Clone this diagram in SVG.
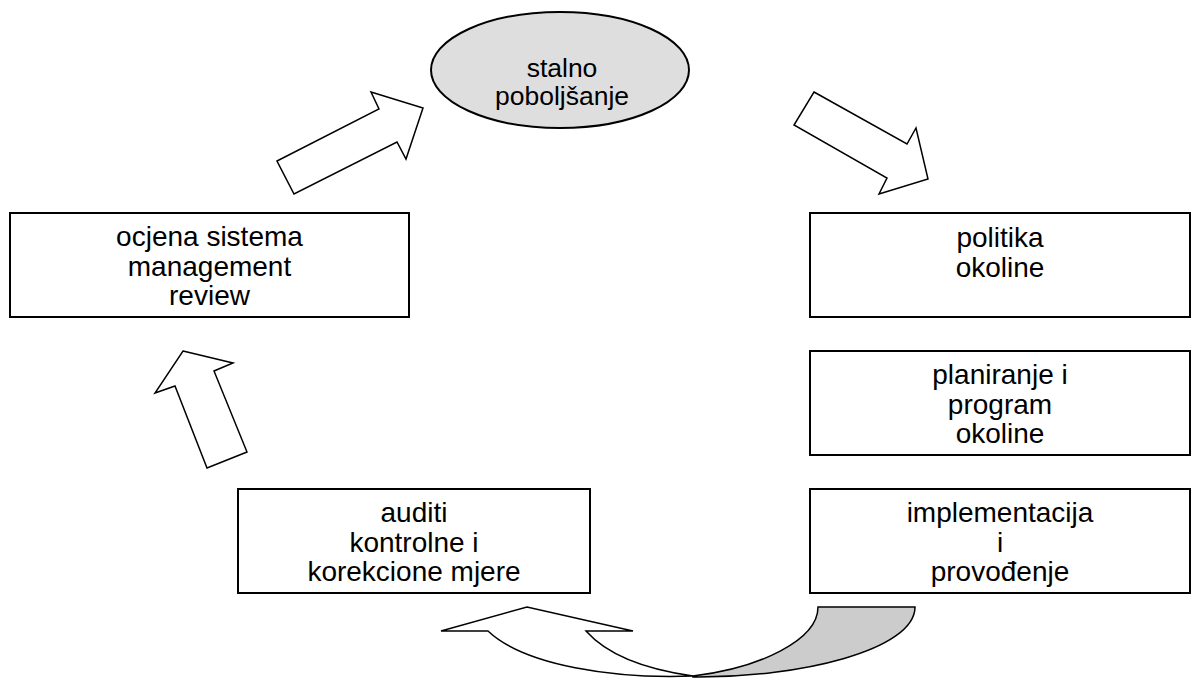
<svg xmlns="http://www.w3.org/2000/svg" width="1202" height="680" viewBox="0 0 1202 680">
<style>
.box{fill:#fff;stroke:#000;stroke-width:2}
.arr{fill:#fff;stroke:#000;stroke-width:1.5;stroke-linejoin:miter}
.t{font-family:"Liberation Sans",Arial,sans-serif;font-size:28px;fill:#000;text-anchor:middle}
.e{font-family:"Liberation Sans",Arial,sans-serif;font-size:26.5px;fill:#000;text-anchor:middle}
</style>
<rect width="1202" height="680" fill="#fff"/>
<g id="connectors">
<polygon class="arr" points="277,161 379,109 371,92 423,108 406,159 397,142 294,194"/>
<polygon class="arr" points="814,92 907,144 916,128 928,179 879,194 887,178 794,125"/>
<polygon class="arr" points="183,351 233,363 214,371 247,452 207,468 175,386 155,393"/>
<path class="arr" d="M441,631 L527,607 L633,631 L586,631 C610,658 650,670 693,676 C615,679 525,666 488,631 Z"/>
<path class="arr" style="fill:#cccccc" d="M693,677 C800,678 915,650 915,607 L818,607 C818,640 760,668 693,676 Z"/>
</g>
<g id="n-stalno">
<ellipse cx="560" cy="70" rx="129" ry="58" fill="#dedede" stroke="#000" stroke-width="2"/>
<text class="e" x="562" y="77">stalno</text>
<text class="e" x="562" y="105">poboljšanje</text>
</g>
<g id="n-ocjena">
<rect class="box" x="10" y="213" width="399" height="104"/>
<text class="t" x="209.5" y="246">ocjena sistema</text>
<text class="t" x="209.5" y="275.5">management</text>
<text class="t" x="209.5" y="305">review</text>
</g>
<g id="n-politika">
<rect class="box" x="810" y="213" width="380" height="104"/>
<text class="t" x="1000" y="247">politika</text>
<text class="t" x="1000" y="276.5">okoline</text>
</g>
<g id="n-planiranje">
<rect class="box" x="810" y="351" width="380" height="104"/>
<text class="t" x="1000" y="384">planiranje i</text>
<text class="t" x="1000" y="413.5">program</text>
<text class="t" x="1000" y="443">okoline</text>
</g>
<g id="n-implementacija">
<rect class="box" x="810" y="489" width="380" height="104"/>
<text class="t" x="1000" y="522">implementacija</text>
<text class="t" x="1000" y="551.5">i</text>
<text class="t" x="1000" y="581">provođenje</text>
</g>
<g id="n-auditi">
<rect class="box" x="238" y="489" width="352" height="104"/>
<text class="t" x="414" y="522">auditi</text>
<text class="t" x="414" y="551.5">kontrolne i</text>
<text class="t" x="414" y="581">korekcione mjere</text>
</g>
</svg>
